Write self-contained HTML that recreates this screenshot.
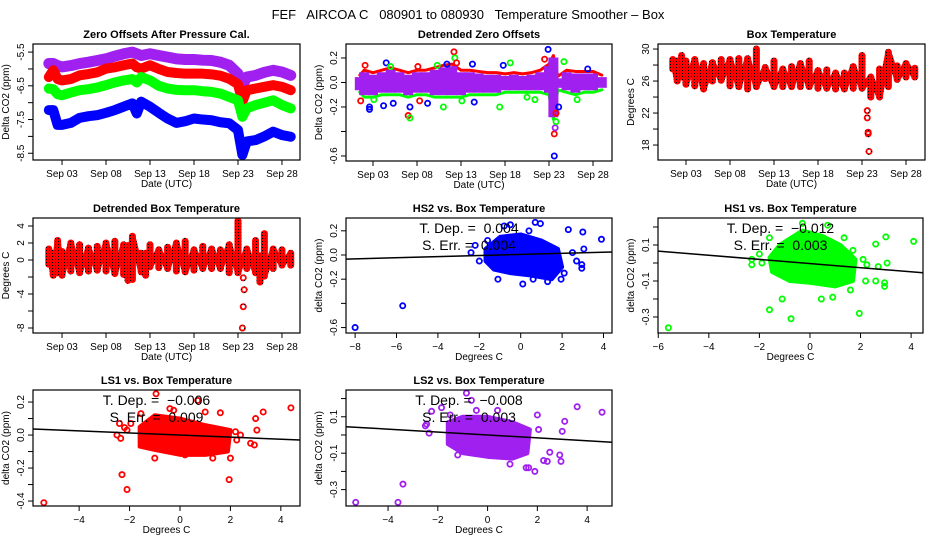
<!DOCTYPE html>
<html><head><meta charset="utf-8"><style>
body{margin:0;background:#fff;}
svg{display:block;font-family:"Liberation Sans",sans-serif;}
text{white-space:pre;}
</style></head><body>
<svg id="c" width="936" height="540" viewBox="0 0 936 540">
<defs>
<pattern id="rdot" width="3" height="3" patternUnits="userSpaceOnUse"><rect width="3" height="3" fill="#ff0000"/><rect x="1" y="1" width="1" height="1" fill="#000"/></pattern>
</defs>
<text x="468" y="19" text-anchor="middle" font-size="13">FEF   AIRCOA C   080901 to 080930   Temperature Smoother – Box</text>
</svg>
<script>
// ---------- data ----------
const dayTicks = [3,8,13,18,23,28];
const dayTickLabels = ["Sep 03","Sep 08","Sep 13","Sep 18","Sep 23","Sep 28"];
const offDays = [1.5,2,2.5,3,4,5,6,7,8,9,10,11,11.5,12,13,14,15,16,17,18,19,20,21,22,23,23.5,24,25,26,27,28,29];
const offPurple = [-5.84,-5.84,-5.9,-5.94,-5.9,-5.84,-5.8,-5.75,-5.70,-5.62,-5.55,-5.5,-5.55,-5.6,-5.55,-5.6,-5.65,-5.7,-5.72,-5.72,-5.74,-5.75,-5.8,-5.89,-6.14,-6.5,-6.24,-6.19,-6.1,-6.04,-6.09,-6.19];
const offRed = [-6.24,-6.04,-6.3,-6.34,-6.3,-6.19,-6.15,-6.1,-5.99,-5.95,-5.89,-5.84,-5.95,-5.99,-5.89,-6.0,-6.09,-6.12,-6.14,-6.14,-6.14,-6.16,-6.2,-6.29,-6.45,-6.97,-6.63,-6.58,-6.53,-6.48,-6.53,-6.63];
const offGreen = [-6.58,-6.6,-6.75,-6.78,-6.7,-6.63,-6.6,-6.55,-6.48,-6.4,-6.34,-6.3,-6.4,-6.24,-6.34,-6.5,-6.58,-6.62,-6.63,-6.63,-6.66,-6.68,-6.73,-6.83,-6.93,-7.42,-7.17,-7.07,-7.0,-6.93,-7.07,-7.17];
const offBlue = [-7.22,-7.22,-7.66,-7.66,-7.6,-7.45,-7.4,-7.37,-7.3,-7.22,-7.12,-7.02,-7.32,-6.97,-7.12,-7.3,-7.47,-7.6,-7.55,-7.47,-7.5,-7.52,-7.58,-7.61,-7.81,-8.55,-8.15,-8.11,-8.0,-7.86,-7.96,-8.01];

const detDays = [1.5,2,3,4,5,6,7,8,9,10,11,12,13,14,15,16,17,18,19,20,21,22,23,23.5,24,25,26,27,28,29];
const detHi = [0.06,0.1,0.08,0.1,0.12,0.1,0.08,0.1,0.1,0.12,0.14,0.15,0.1,0.1,0.09,0.08,0.08,0.07,0.08,0.07,0.08,0.1,0.15,0.22,0.05,0.1,0.09,0.09,0.09,0.06];
const detLo = [-0.08,-0.12,-0.12,-0.1,-0.1,-0.1,-0.12,-0.1,-0.1,-0.12,-0.12,-0.12,-0.12,-0.1,-0.1,-0.1,-0.1,-0.08,-0.08,-0.08,-0.08,-0.08,-0.1,-0.3,-0.06,-0.08,-0.1,-0.08,-0.08,-0.06];
const detOutDays = [1.6,2.1,2.6,2.6,3.1,4.2,4.5,5.0,5.3,7.0,7.2,7.2,8.1,8.3,9.2,10.3,11.0,11.4,12.2,12.3,12.5,13.1,14.3,14.5,17.4,17.8,18.6,20.5,21.4,22.5,22.9,23.6,23.6,23.7,23.8,23.8,24.1,24.7,26.2,27.4];
const detOutVals = [-0.15,0.14,-0.2,-0.22,-0.14,-0.19,0.16,0.13,-0.17,-0.27,-0.29,-0.2,0.13,-0.15,-0.17,0.14,-0.2,0.15,0.25,0.2,0.16,-0.15,0.15,-0.16,-0.2,0.14,0.16,-0.12,-0.14,0.19,0.27,-0.6,-0.42,-0.37,-0.32,-0.25,-0.2,0.17,-0.14,0.11];
const detOutColor = ["r","r","b","b","g","b","b","g","b","r","g","b","r","r","b","g","g","b","r","g","r","g","b","b","g","b","g","g","g","r","b","b","r","m","g","r","b","g","g","b"];

const tempDays = [1.5,2,2.5,3,4,5,6,7,8,9,10,11,12,13,14,15,16,17,18,19,20,21,22,23,24,25,26,27,28,29];
const tempMax = [28.7,28.5,29.2,28.5,28.7,28.2,28.3,28.7,28.7,28.8,28.8,30.0,27.7,28.5,27.5,27.8,28.2,28.5,27.3,27.4,27.0,27.0,27.8,29.2,26.5,27.5,29.6,27.9,28.2,27.6];
const tempMin = [27.5,26.0,26.5,25.6,25.4,25.0,26.0,26.1,25.4,25.3,25.0,25.3,26.3,25.3,25.3,25.3,25.3,25.3,25.1,25.1,25.0,25.0,25.1,25.1,24.0,24.0,25.3,26.2,26.5,26.5];
const tempOutDays = [23.6,23.6,23.7,23.7,23.8];
const tempOutVals = [22.3,21.4,19.6,19.4,17.2];

const dtDays = [1.5,2,2.5,3,4,5,6,7,8,9,10,10.5,11,12,12.5,13,14,15,16,17,18,19,20,21,22,23,24,25,25.5,26,27,28,29];
const dtMax = [1.3,0.8,2.3,1.0,2.0,1.8,1.4,1.6,2.0,2.2,1.8,1.7,2.8,0.8,0.8,1.8,1.2,1.5,2.0,2.2,1.2,1.6,1.3,1.2,1.8,4.6,1.3,2.3,0.5,3.1,1.3,1.2,0.8];
const dtMin = [-0.5,-1.8,-1.5,-1.8,-1.3,-1.5,-1.3,-1.2,-1.3,-1.6,-1.7,-2.4,-2.3,-1.4,-1.8,-0.8,-0.9,-1.0,-1.3,-1.4,-1.2,-1.0,-1.0,-1.0,-1.5,-1.5,-1.0,-1.5,-2.6,-1.9,-1.0,-0.6,-0.6];
const dtOutDays = [23.6,23.7,23.6,23.5];
const dtOutVals = [-2.1,-3.5,-5.5,-8.0];

const hs2HullX = [-1.7,-1.0,0,1.0,1.8,2.0,1.5,0.5,-0.5,-1.3,-1.7];
const hs2HullY = [0.05,0.15,0.17,0.12,0.05,-0.1,-0.2,-0.17,-0.15,-0.12,-0.05];
const hs2X = [-8,-5.7,-2.4,-2.2,-2,-1.1,-0.5,0.1,0.7,0.95,2.3,3.0,3.9,3.05,2.5,2.95,2.95,1.95,1.3,2.1,0.6,1.5,2.7,-1.6,-0.8,0.4];
const hs2Y = [-0.6,-0.42,0.02,0.08,-0.05,-0.2,0.25,-0.24,0.27,0.26,0.21,0.19,0.13,0.05,0.02,-0.08,-0.11,-0.2,-0.22,-0.15,-0.2,-0.17,-0.05,0.12,0.24,0.2];
const hs2Fit = [0.005,0.0046];
const hs1HullX = [-1.6,-1.2,-0.3,0.5,1.2,1.8,1.7,1.0,0,-0.8,-1.5];
const hs1HullY = [0.03,0.1,0.18,0.15,0.1,0.02,-0.1,-0.13,-0.11,-0.1,-0.05];
const hs1X = [-5.6,-2.3,-2.3,-1.9,-2.0,-1.6,-1.1,-0.75,0.45,0.9,1.95,2.2,2.6,2.95,2.95,2.6,3.0,4.1,3.05,2.7,2.25,1.7,-0.3,0.7,1.35,-1.6,1.6,2.1];
const hs1Y = [-0.36,-0.01,0.02,0.0,0.05,-0.26,-0.2,-0.31,-0.2,-0.19,-0.28,-0.1,-0.1,-0.11,-0.13,0.105,0.145,0.12,0.0,-0.02,-0.01,0.07,0.22,0.21,0.14,0.14,-0.15,0.02];
const hs1Fit = [-0.003,-0.0115];
const ls1HullX = [-1.6,-1.0,0,1.0,2.0,1.9,1.0,0,-1.0,-1.6];
const ls1HullY = [0.05,0.12,0.1,0.06,0.03,-0.1,-0.12,-0.12,-0.09,-0.07];
const ls1X = [-5.4,-2.4,-2.5,-2.35,-2.2,-2.1,-1.95,-2.3,-2.1,-1.0,-0.95,0.7,-0.4,-0.25,1.0,1.6,1.3,2.0,1.95,3.0,3.3,4.4,3.05,2.8,2.95,2.2,2.4,2.25,0.2,-1.55];
const ls1Y = [-0.41,0.07,0.0,-0.02,0.045,0.03,0.07,-0.24,-0.33,-0.14,0.25,0.21,0.16,0.15,0.14,0.135,-0.14,-0.14,-0.27,0.1,0.14,0.165,0.03,-0.05,-0.06,0.02,0.0,-0.03,-0.12,0.13];
const ls1Fit = [0.0,-0.0063];
const ls2HullX = [-1.6,-1.0,0,1.0,1.7,1.6,1.0,0,-1.0,-1.6];
const ls2HullY = [0.07,0.1,0.1,0.07,0.03,-0.1,-0.13,-0.12,-0.1,-0.05];
const ls2X = [-5.3,-3.6,-3.4,-2.5,-2.45,-2.35,-2.25,-1.85,-1.2,-0.85,-0.65,-0.45,0.4,2.0,3.6,4.6,3.1,3.0,2.05,2.5,2.9,2.95,2.25,2.4,0.9,1.55,1.9,1.65,0.6,0.1,-1.5];
const ls2Y = [-0.37,-0.37,-0.27,0.05,0.06,0.01,0.13,0.15,-0.11,0.23,0.19,0.135,0.135,0.11,0.155,0.125,0.075,0.02,0.03,-0.095,-0.11,-0.145,-0.14,-0.145,-0.16,-0.18,-0.2,-0.18,-0.11,-0.11,0.11];
const ls2Fit = [0.0,-0.008];

// ---------- drawing ----------
const svg = document.getElementById('c');
const NS = 'http://www.w3.org/2000/svg';
const PURPLE = '#a020f0';
function mk(tag, attrs, parent){const e=document.createElementNS(NS,tag);for(const k in attrs)e.setAttribute(k,attrs[k]);(parent||svg).appendChild(e);return e;}
const COL = {r:'#ff0000',g:'#00ff00',b:'#0000ff',m:PURPLE};

function panel(name, box, xd, yd, title, xlab, ylab, xt, xtl, yt, ytl){
  const g = mk('g',{});
  
  
  const sx = v => box[0] + (v-xd[0])/(xd[1]-xd[0])*(box[1]-box[0]);
  const sy = v => box[3] - (v-yd[0])/(yd[1]-yd[0])*(box[3]-box[2]);
  const clip = mk('clipPath',{id:'clip-'+name}, g);
  mk('rect',{x:box[0],y:box[2],width:box[1]-box[0],height:box[3]-box[2]},clip);
  const plot = mk('g',{'clip-path':'url(#clip-'+name+')'}, g);
  
  
  const frame = mk('rect',{x:box[0],y:box[2],width:box[1]-box[0],height:box[3]-box[2],fill:'none',stroke:'#000','stroke-width':1.2}, g);
  
  
  const t = mk('text',{x:(box[0]+box[1])/2,y:box[2]-6,'text-anchor':'middle','font-size':11,'font-weight':'bold'},g);
  t.textContent = title;
  
  
  const xa = mk('g',{},g);
  
  
  xt.forEach((v,i)=>{
    const x=sx(v);
    mk('line',{x1:x,x2:x,y1:box[3],y2:box[3]+5,stroke:'#000'},xa);
    const l=mk('text',{x:x,y:box[3]+17,'text-anchor':'middle','font-size':10},xa);
    l.textContent = xtl[i];
    
    
  });
  const xl = mk('text',{x:(box[0]+box[1])/2,y:box[3]+27,'text-anchor':'middle','font-size':10},g);
  xl.textContent = xlab;
  
  
  const ya = mk('g',{},g);
  
  
  yt.forEach((v,i)=>{
    const y=sy(v);
    mk('line',{x1:box[0]-5,x2:box[0],y1:y,y2:y,stroke:'#000'},ya);
    if(ytl[i]!==''){
      const l=mk('text',{x:0,y:0,'text-anchor':'middle','font-size':10,transform:'translate('+(box[0]-9)+','+y+') rotate(-90)'},ya);
      l.textContent = ytl[i];
      
      
    }
  });
  const yl = mk('text',{x:0,y:0,'text-anchor':'middle','font-size':10,transform:'translate('+(box[0]-24)+','+((box[2]+box[3])/2)+') rotate(-90)'},g);
  yl.textContent = ylab;
  
  
  return {sx,sy,plot,g};
}
function band(p, xs, ys, col, w, nm){
  const pts = xs.map((x,i)=>p.sx(x)+','+p.sy(ys[i])).join(' ');
  const e = mk('polyline',{points:pts,fill:'none',stroke:col,'stroke-width':w,'stroke-linejoin':'round','stroke-linecap':'round'},p.plot);
  
  
}
function ring(p, x, y, col, nm){
  const e = mk('circle',{cx:p.sx(x),cy:p.sy(y),r:2.6,fill:'none',stroke:col,'stroke-width':1.8},p.plot);
  
  
}
function columns(p, xs, lo, hi, nm){
  xs.forEach((x,i)=>{
    const e = mk('line',{x1:p.sx(x),x2:p.sx(x),y1:p.sy(lo[i]),y2:p.sy(hi[i]),stroke:'url(#rdot)','stroke-width':7,'stroke-linecap':'round'},p.plot);
    
    
  });
  const z = xs.map((x,i)=>i%2? lo[i]:hi[i]);
  const pts = xs.map((x,i)=>p.sx(x)+','+p.sy(z[i])).join(' ');
  const e2 = mk('polyline',{points:pts,fill:'none',stroke:'url(#rdot)','stroke-width':6,'stroke-linejoin':'round'},p.plot);
  
  
}
const offTicks=[-5.5,-6,-6.5,-7,-7.5,-8,-8.5];
const offTickLbl=['-5.5','','-6.5','','-7.5','','-8.5'];

let p = panel('zero-offsets-panel',[33,300,44,160],[-0.3,30.05],[-8.70,-5.26],'Zero Offsets After Pressure Cal.','Date (UTC)','Delta CO2 (ppm)',dayTicks,dayTickLabels,offTicks,offTickLbl);
band(p,offDays,offPurple,PURPLE,11,'ls2-offset-series');
band(p,offDays,offRed,'#ff0000',10,'ls1-offset-series');
band(p,offDays,offGreen,'#00ff00',10,'hs1-offset-series');
band(p,offDays,offBlue,'#0000ff',10,'hs2-offset-series');

p = panel('detrended-offsets-panel',[346,612,44,161],[-0.07,30.16],[-0.641,0.314],'Detrended Zero Offsets','Date (UTC)','Delta CO2 (ppm)',dayTicks,dayTickLabels,[0.2,0,-0.2,-0.4,-0.6],['0.2','0.0','-0.2','','-0.6']);
band(p,detDays,detHi,'#ff0000',3,'detrended-red-upper');
band(p,detDays,detLo,'#00ff00',3,'detrended-green-lower');
detDays.forEach((d,i)=>{
  const e=mk('line',{x1:p.sx(d),x2:p.sx(d),y1:p.sy(detLo[i])-2,y2:p.sy(detHi[i])+2,stroke:PURPLE,'stroke-width':10},p.plot);
  
  
});
detOutDays.forEach((d,i)=>ring(p,d,detOutVals[i],COL[detOutColor[i]],'detrended-outlier'));

p = panel('box-temperature-panel',[658,925,44,160],[-0.18,30.16],[16.13,30.63],'Box Temperature','Date (UTC)','Degrees C',dayTicks,dayTickLabels,[18,20,22,24,26,28,30],['18','','22','','26','','30']);
columns(p,tempDays,tempMin,tempMax,'box-temp-day');
tempOutDays.forEach((d,i)=>ring(p,d,tempOutVals[i],'url(#rdot)','box-temp-outlier'));

p = panel('detrended-box-temp-panel',[33,300,218,333],[-0.3,30.05],[-8.59,4.94],'Detrended Box Temperature','Date (UTC)','Degrees C',dayTicks,dayTickLabels,[4,2,0,-2,-4,-6,-8],['4','2','0','','-4','','-8']);
columns(p,dtDays,dtMin,dtMax,'detrended-temp-day');
dtOutDays.forEach((d,i)=>ring(p,d,dtOutVals[i],'url(#rdot)','detrended-temp-outlier'));

function scatter(name, box, xd, yd, title, xt, yt, ytl, hx, hy, xs, ys, fit, col, tdep, serr){
  const q = panel(name, box, xd, yd, title, 'Degrees C', 'delta CO2 (ppm)', xt, xt.map(String).map(s=>s.replace('-','−')), yt, ytl);
  const hull = mk('polygon',{points:hx.map((x,i)=>q.sx(x)+','+q.sy(hy[i])).join(' '),fill:col,stroke:col,'stroke-width':4,'stroke-linejoin':'round'},q.plot);
  
  
  xs.forEach((x,i)=>ring(q,x,ys[i],col,name+'-point'));
  const ln = mk('line',{x1:q.sx(xd[0]),y1:q.sy(fit[0]+fit[1]*xd[0]),x2:q.sx(xd[1]),y2:q.sy(fit[0]+fit[1]*xd[1]),stroke:'#000','stroke-width':1.5},q.plot);
  
  
  const cx = (box[0]+box[1])/2 - 10;
  const t1 = mk('text',{x:cx,y:box[2]+15,'text-anchor':'middle','font-size':14},q.g);
  t1.textContent = 'T. Dep. =  ' + tdep;
  
  
  const t2 = mk('text',{x:cx,y:box[2]+32,'text-anchor':'middle','font-size':14},q.g);
  t2.textContent = 'S. Err. =  ' + serr;
  
  
}
scatter('hs2-vs-temp-panel',[346,612,218,333],[-8.44,4.41],[-0.645,0.306],'HS2 vs. Box Temperature',[-8,-6,-4,-2,0,2,4],[0.2,0,-0.2,-0.4,-0.6],['0.2','0.0','-0.2','','-0.6'],hs2HullX,hs2HullY,hs2X,hs2Y,hs2Fit,'#0000ff','0.004','0.004');
scatter('hs1-vs-temp-panel',[658,923,218,333],[-6.01,4.47],[-0.389,0.25],'HS1 vs. Box Temperature',[-6,-4,-2,0,2,4],[0.2,0.1,0,-0.1,-0.2,-0.3],['','0.1','','-0.1','','-0.3'],hs1HullX,hs1HullY,hs1X,hs1Y,hs1Fit,'#00ff00','−0.012','0.003');
scatter('ls1-vs-temp-panel',[33,300,390,506],[-5.83,4.76],[-0.43,0.273],'LS1 vs. Box Temperature',[-4,-2,0,2,4],[0.2,0.1,0,-0.1,-0.2,-0.3,-0.4],['0.2','','0.0','','-0.2','','-0.4'],ls1HullX,ls1HullY,ls1X,ls1Y,ls1Fit,'#ff0000','−0.006','0.009');
scatter('ls2-vs-temp-panel',[346,612,390,506],[-5.69,5.0],[-0.39,0.247],'LS2 vs. Box Temperature',[-4,-2,0,2,4],[0.2,0.1,0,-0.1,-0.2,-0.3],['','0.1','','-0.1','','-0.3'],ls2HullX,ls2HullY,ls2X,ls2Y,ls2Fit,PURPLE,'−0.008','0.003');
</script>
</body></html>
